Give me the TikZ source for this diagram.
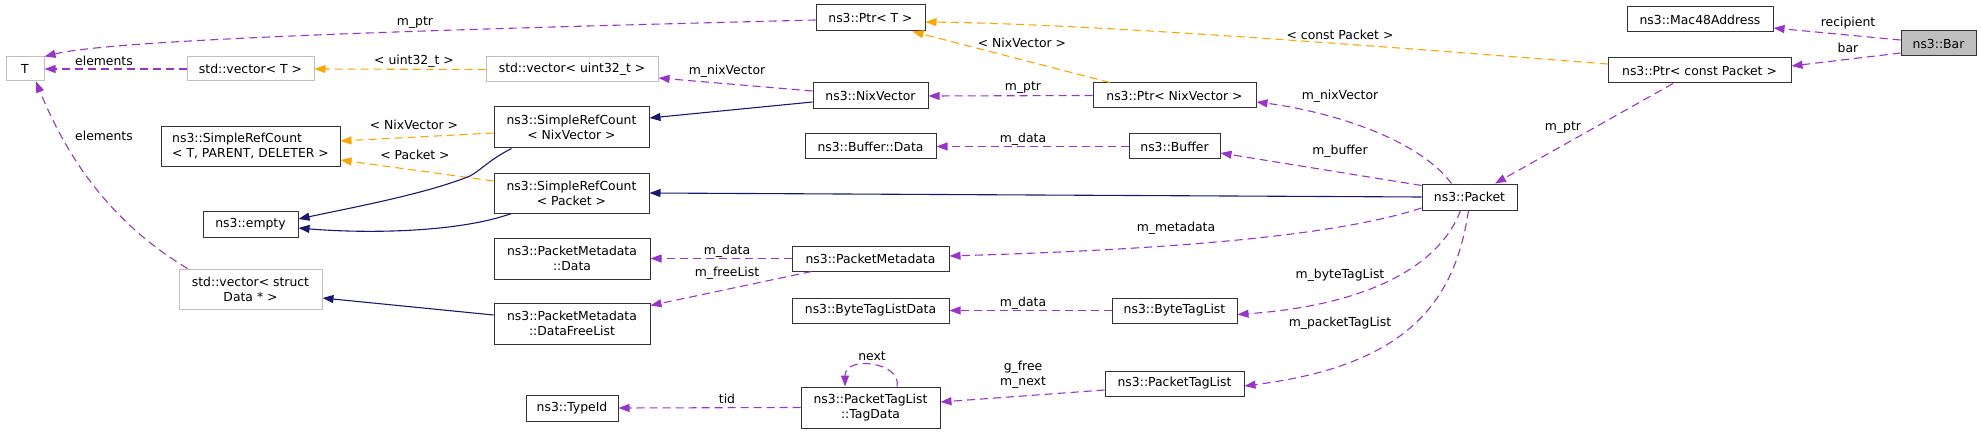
\documentclass[tikz,border=0pt]{standalone}
\usepackage{fontspec}
\setmainfont{DejaVu Sans}
\usetikzlibrary{arrows.meta}
\definecolor{epurple}{HTML}{9A32CD}
\definecolor{eorange}{HTML}{FFA500}
\definecolor{enavy}{HTML}{191970}
\definecolor{egray}{HTML}{BFBFBF}
\definecolor{edge}{HTML}{333333}
\tikzset{
  cls/.style={draw=edge, line width=1pt, fill=white, inner sep=0pt, align=center},
  ext/.style={cls, draw=egray},
  self/.style={cls, fill=egray},
  lbl/.style={inner sep=0pt, align=center},
  tip/.style={-{Triangle[length=11pt,width=8pt]}},
  uses/.style={tip, draw=epurple, line width=1.1pt, dash pattern=on 8pt off 5pt},
  tmpl/.style={tip, draw=eorange, line width=1.1pt, dash pattern=on 8pt off 5pt},
  inh/.style={tip, draw=enavy, line width=1.1pt},
}
\begin{document}
\begin{tikzpicture}[x=1pt,y=-1pt,font=\fontsize{12.4}{15}\selectfont]
\useasboundingbox (0,0) rectangle (1981,433);
% nodes
\node[ext, minimum width=38pt, minimum height=24pt] (T) at (25,69) {T};
\node[ext, minimum width=127pt, minimum height=24pt] (vecT) at (250.5,69) {std::vector< T >};
\node[ext, minimum width=172pt, minimum height=25pt] (vecU) at (572,69.5) {std::vector< uint32\_t >};
\node[cls, minimum width=109pt, minimum height=26pt] (ptrT) at (870.5,18) {ns3::Ptr< T >};
\node[cls, minimum width=115pt, minimum height=26pt] (nix) at (870.5,96) {ns3::NixVector};
\node[cls, minimum width=163pt, minimum height=25pt] (ptrNix) at (1174.5,95.5) {ns3::Ptr< NixVector >};
\node[cls, minimum width=155pt, minimum height=41pt] (srcNix) at (571.5,127.5) {ns3::SimpleRefCount\\< NixVector >};
\node[cls, minimum width=179pt, minimum height=40pt, align=left] (srcTPD) at (250.5,146.5) {ns3::SimpleRefCount\\< T, PARENT, DELETER >};
\node[cls, minimum width=155pt, minimum height=40pt] (srcPkt) at (571.5,193) {ns3::SimpleRefCount\\< Packet >};
\node[cls, minimum width=131pt, minimum height=25pt] (bufData) at (870.5,146.5) {ns3::Buffer::Data};
\node[cls, minimum width=91pt, minimum height=25pt] (buffer) at (1174.5,146.5) {ns3::Buffer};
\node[cls, minimum width=95pt, minimum height=26pt] (packet) at (1469.5,197) {ns3::Packet};
\node[cls, minimum width=146pt, minimum height=25pt] (mac) at (1700,19.5) {ns3::Mac48Address};
\node[self, minimum width=75pt, minimum height=25pt] (bar) at (1938.5,43.5) {ns3::Bar};
\node[cls, minimum width=183pt, minimum height=25pt] (ptrCP) at (1699.5,70.5) {ns3::Ptr< const Packet >};
\node[cls, minimum width=95pt, minimum height=26pt] (empty) at (250.5,224) {ns3::empty};
\node[ext, minimum width=143pt, minimum height=40pt] (vecS) at (250.5,289) {std::vector< struct\\Data * >};
\node[cls, minimum width=156pt, minimum height=41pt] (pmData) at (572,258.5) {ns3::PacketMetadata\\::Data};
\node[cls, minimum width=156pt, minimum height=41pt] (pmFree) at (572,323.5) {ns3::PacketMetadata\\::DataFreeList};
\node[cls, minimum width=157pt, minimum height=25pt] (pm) at (870.5,258.5) {ns3::PacketMetadata};
\node[cls, minimum width=157pt, minimum height=25pt] (btld) at (870.5,310.5) {ns3::ByteTagListData};
\node[cls, minimum width=92pt, minimum height=26pt] (typeId) at (572,408) {ns3::TypeId};
\node[cls, minimum width=139pt, minimum height=41pt] (tagData) at (870.5,407.5) {ns3::PacketTagList\\::TagData};
\node[cls, minimum width=125pt, minimum height=25pt] (btl) at (1174.5,310.5) {ns3::ByteTagList};
\node[cls, minimum width=139pt, minimum height=25pt] (ptl) at (1174.5,383.5) {ns3::PacketTagList};
% edges
\draw[uses] ([yshift=3.5pt]bar.west) -- ([yshift=-8.5pt]mac.east);
\draw[uses] ([yshift=-9.5pt]bar.west) -- ([yshift=4.5pt]ptrCP.east);
\draw[uses] ([xshift=-26.5pt]ptrCP.south) -- ([xshift=25.5pt]packet.north);
\draw[tmpl] ([yshift=6.5pt]ptrCP.west) .. controls (1400,48) and (1100,24) .. ([yshift=-4pt]ptrT.east);
\draw[tmpl] ([xshift=-64.5pt]ptrNix.north) -- ([xshift=-13pt]ptrT.south east);
\draw[uses] ([yshift=-2pt]ptrT.west) .. controls (500,28) and (120,38) .. (T.north east);
\draw[uses] (ptrNix.west) -- (nix.east);
\draw[uses] ([yshift=5pt]nix.west) -- ([yshift=-8.5pt]vecU.east);
\draw[tmpl] (vecU.west) -- (vecT.east);
\draw[uses] (vecT.west) -- (T.east);
\draw[inh] ([yshift=-6pt]nix.west) -- ([yshift=9.5pt]srcNix.east);
\draw[tmpl] ([yshift=-5.5pt]srcNix.west) -- ([yshift=5.5pt]srcTPD.east);
\draw[tmpl] ([yshift=12pt]srcPkt.west) -- ([yshift=-13.5pt]srcTPD.east);
\draw[inh] ([xshift=-60pt]srcNix.south) .. controls (485,162) and (478,174) .. (465,178) .. controls (420,195) and (350,208) .. ([yshift=5pt]empty.east);
\draw[inh] ([xshift=-60pt]srcPkt.south) .. controls (460,232) and (370,234) .. ([yshift=-4pt]empty.east);
\draw[inh] (packet.west) -- (srcPkt.east);
\draw[uses] ([xshift=-18pt]packet.north) .. controls (1415,135) and (1320,110) .. ([yshift=-6.5pt]ptrNix.east);
\draw[uses] ([yshift=-2pt]packet.north west) -- ([yshift=-6.5pt]buffer.east);
\draw[uses] (buffer.west) -- (bufData.east);
\draw[uses] ([yshift=2.5pt]packet.south west) .. controls (1330,238) and (1150,250) .. ([yshift=2.5pt]pm.east);
\draw[uses] (pm.west) -- (pmData.east);
\draw[uses] ([xshift=20pt]pm.south west) -- ([yshift=-3pt]pmFree.north east);
\draw[inh] ([yshift=8.5pt]pmFree.west) -- ([yshift=-9pt]vecS.east);
\draw[uses] ([xshift=9pt]vecS.north west) .. controls (140,240) and (80,190) .. ([xshift=11pt]T.south);
\draw[uses] ([xshift=-9pt]packet.south) .. controls (1440,265) and (1370,305) .. ([yshift=-4pt]btl.east);
\draw[uses] ([xshift=-1pt]packet.south) .. controls (1455,300) and (1410,365) .. ([yshift=-2.5pt]ptl.east);
\draw[uses] (btl.west) -- (btld.east);
\draw[uses] ([yshift=-6.5pt]ptl.west) -- ([yshift=5.5pt]tagData.east);
\draw[uses] ([xshift=26.5pt]tagData.north) .. controls (902,362) and (845,355) .. ([xshift=-25.5pt]tagData.north);
\draw[uses] (tagData.west) -- (typeId.east);
% labels
\node[lbl] (l1) at (415,23) {m\_ptr};
\node[lbl] (l2) at (104,61) {elements};
\node[lbl] (l3) at (414,61) {< uint32\_t >};
\node[lbl] (l4) at (727,71) {m\_nixVector};
\node[lbl] (l5) at (1022,43) {< NixVector >};
\node[lbl] (l6) at (1023,88) {m\_ptr};
\node[lbl] (l7) at (1340,35) {< const Packet >};
\node[lbl] (l8) at (1848,23) {recipient};
\node[lbl] (l9) at (1848,48) {bar};
\node[lbl] (l10) at (1563,128) {m\_ptr};
\node[lbl] (l11) at (1340,96) {m\_nixVector};
\node[lbl] (l12) at (414,125) {< NixVector >};
\node[lbl] (l13) at (415,155) {< Packet >};
\node[lbl] (l14) at (104,136) {elements};
\node[lbl] (l15) at (1023,139) {m\_data};
\node[lbl] (l16) at (1340,151) {m\_buffer};
\node[lbl] (l17) at (1176,228) {m\_metadata};
\node[lbl] (l18) at (727,251) {m\_data};
\node[lbl] (l19) at (727,273) {m\_freeList};
\node[lbl] (l20) at (1340,275) {m\_byteTagList};
\node[lbl] (l21) at (1023,303) {m\_data};
\node[lbl] (l22) at (1340,323) {m\_packetTagList};
\node[lbl] (l23) at (872,356) {next};
\node[lbl] (l24) at (1023,375) {g\_free\\m\_next};
\node[lbl] (l25) at (727,399) {tid};
\end{tikzpicture}
\end{document}
